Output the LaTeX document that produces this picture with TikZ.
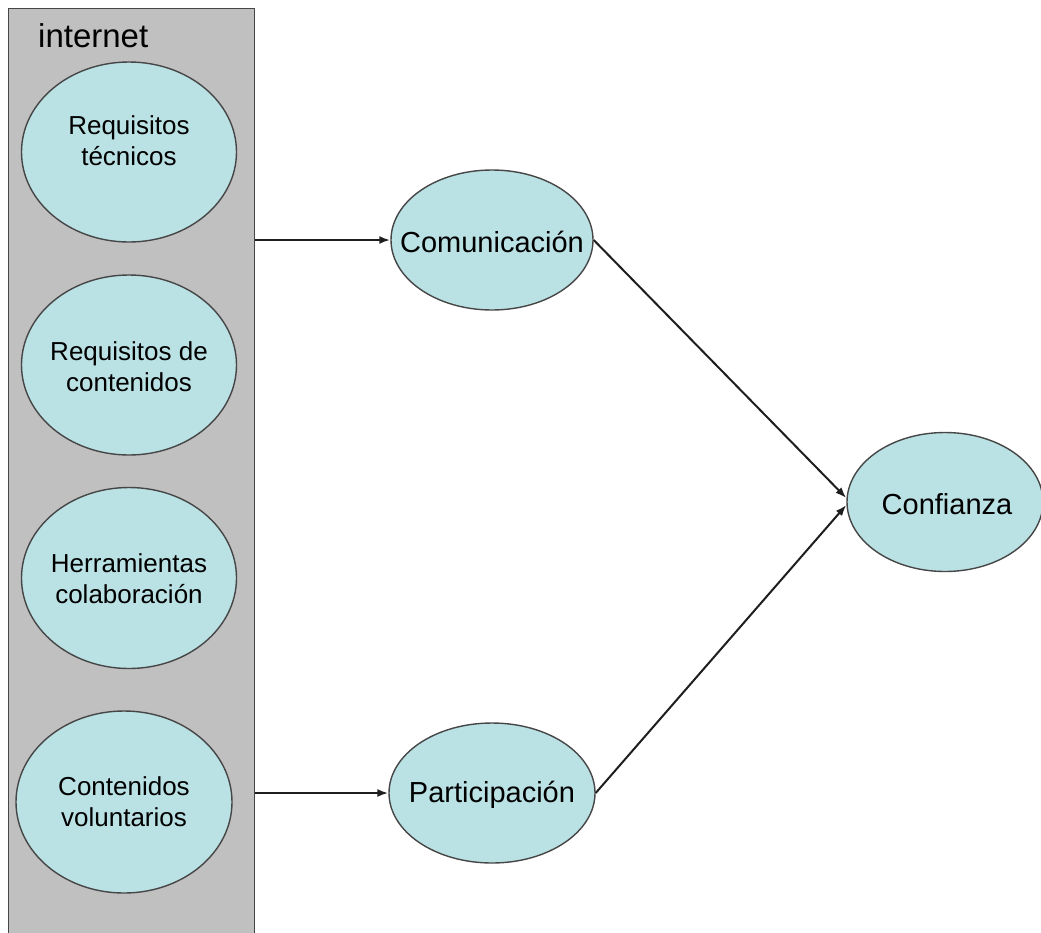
\documentclass[tikz,border=0pt]{standalone}
\usepackage{fontspec}
\setmainfont{Liberation Sans}
\usetikzlibrary{shapes.geometric,arrows.meta}
\definecolor{bubble}{RGB}{186,225,228}
\definecolor{panelgray}{RGB}{192,192,192}
\definecolor{edgegray}{RGB}{70,70,70}
\definecolor{wire}{RGB}{30,30,30}
\begin{document}
\begin{tikzpicture}[x=1pt,y=-1pt,
  bub/.style={ellipse, draw=edgegray, line width=1.4pt, fill=bubble, inner sep=0pt},
  txt/.style={align=center, inner sep=0pt},
  small/.style={txt, font=\fontsize{26}{31}\selectfont},
  big/.style={txt, font=\fontsize{29}{34}\selectfont},
  link/.style={draw=wire, line width=2pt, -{Latex[length=11pt,width=8pt]}}
]
\useasboundingbox (0,0) rectangle (1041,932);

% grey "internet" column
\node[draw=edgegray, line width=1.4pt, fill=panelgray, inner sep=0pt,
      minimum width=246pt, minimum height=940pt, anchor=north west] (panel) at (8,8) {};
\node[anchor=west, inner sep=0pt, font=\fontsize{33}{38}\selectfont] (inet) at (38,36) {internet};

% bubbles inside the column
\node[bub, minimum width=215pt, minimum height=180pt] (tec) at (129,152) {};
\node[small] (tectext) at (129,141) {Requisitos\\técnicos};
\node[bub, minimum width=215pt, minimum height=180pt] (cont) at (129,365) {};
\node[small] (conttext) at (129,367) {Requisitos de\\contenidos};
\node[bub, minimum width=215pt, minimum height=181pt] (herr) at (129,578) {};
\node[small] (herrtext) at (129,579) {Herramientas\\colaboración};
\node[bub, minimum width=216pt, minimum height=182pt] (vol) at (124,802) {};
\node[small] (voltext) at (124,802) {Contenidos\\voluntarios};

% outcome bubbles
\node[bub, minimum width=202pt, minimum height=140pt] (com) at (492,240) {};
\node[big] (comtext) at (492,242) {Comunicación};
\node[bub, minimum width=206pt, minimum height=140pt] (par) at (492,793) {};
\node[big] (partext) at (492,795) {Participación};
\node[bub, minimum width=196pt, minimum height=139pt] (conf) at (945,502) {};
\node[big] (conftext) at (947,504) {Confianza};

% connectors
\draw[link] (panel.east |- com.west) -- (com.west);
\draw[link] (panel.east |- par.west) -- (par.west);
\draw[link] (com.east) -- ([yshift=4pt]conf.west);
\draw[link] (par.east) -- ([yshift=-3pt]conf.west);
\end{tikzpicture}
\end{document}
